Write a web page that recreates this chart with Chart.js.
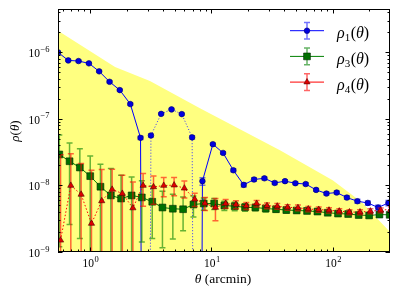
<!DOCTYPE html>
<html><head><meta charset="utf-8">
<script src="https://cdn.jsdelivr.net/npm/chart.js@4"></script>
<style>html,body{margin:0;padding:0;background:#fff;}</style>
</head><body>
<canvas id="c" width="399" height="299"></canvas>
<script>
// ---- data ----
const theta = [0.545,0.662,0.805,0.980,1.19,1.45,1.76,2.15,2.61,3.18,3.86,4.70,5.71,6.95,8.45,10.3,12.5,15.2,18.5,22.5,27.4,33.3,40.5,49.3,60.0,73.1,88.9,108,131,160,195,237,288];
const rho1 = [1.0e-6,7.57e-7,7.4e-7,6.83e-7,5.18e-7,3.61e-7,2.71e-7,1.67e-7,5.19e-8,-5.64e-8,-1.19e-7,-1.39e-7,-1.18e-7,-5.28e-8,1.16e-8,4.17e-8,3.08e-8,1.69e-8,1.02e-8,1.23e-8,1.28e-8,1.09e-8,1.16e-8,1.08e-8,1.05e-8,8.57e-9,7.56e-9,7.83e-9,6.58e-9,5.79e-9,5.46e-9,4.66e-9,5.46e-9];
const rho1Err = [3e-8,2.5e-8,2.3e-8,2e-8,1.6e-8,1.2e-8,9e-9,6e-9,3e-9,3e-9,4e-9,4e-9,4e-9,3e-9,1.5e-9,1.5e-9,1.2e-9,9e-10,7e-10,7e-10,6e-10,6e-10,5e-10,5e-10,5e-10,4e-10,4e-10,4e-10,4e-10,4e-10,4e-10,4e-10,5e-10];
const rho3 = [2.92e-8,2.31e-8,1.86e-8,1.38e-8,9.57e-9,7.08e-9,6.36e-9,7.08e-9,6.61e-9,5.69e-9,4.66e-9,4.47e-9,4.39e-9,5.17e-9,5.35e-9,5.35e-9,4.99e-9,4.87e-9,4.70e-9,4.66e-9,4.50e-9,4.39e-9,4.27e-9,4.21e-9,4.14e-9,4.05e-9,3.89e-9,3.78e-9,3.72e-9,3.59e-9,3.54e-9,3.65e-9,3.62e-9];
const rho3Err = [2.8e-8,2.05e-8,1.7e-8,1.4e-8,1.13e-8,1.09e-8,7.9e-9,6.3e-9,5.2e-9,4.1e-9,3.5e-9,2.9e-9,2.3e-9,1.8e-9,1.1e-9,1.0e-9,8e-10,7e-10,6e-10,5e-10,5e-10,4.5e-10,4e-10,4e-10,3.5e-10,3.5e-10,3e-10,3e-10,3e-10,2.5e-10,2.5e-10,2.5e-10,2.5e-10];
const rho4 = [1.50e-9,9.97e-9,7.33e-9,2.68e-9,5.85e-9,8.71e-9,7.56e-9,4.58e-9,9.97e-9,9.51e-9,9.97e-9,1.01e-8,9.08e-9,6.21e-9,5.40e-9,4.66e-9,5.35e-9,5.17e-9,4.95e-9,5.35e-9,4.95e-9,4.87e-9,4.70e-9,4.62e-9,4.42e-9,4.34e-9,4.24e-9,4.10e-9,3.98e-9,3.98e-9,4.10e-9,4.24e-9,4.39e-9];
const rho4Err = [2.75e-8,2.0e-8,1.4e-8,1.42e-8,1.15e-8,8.8e-9,6.7e-9,6.7e-9,5.1e-9,4.3e-9,3.2e-9,3.1e-9,2.6e-9,1.4e-9,1.2e-9,1.7e-9,8e-10,7e-10,6e-10,6e-10,5e-10,5e-10,4.5e-10,4.5e-10,4e-10,4e-10,4e-10,3.5e-10,3.5e-10,3.5e-10,3.5e-10,3.5e-10,3.5e-10];
const bandTheta = [0.545,1.61,3.12,8.06,36.8,100,174,297];
const bandUpper = [2.11e-6,6.0e-7,3.7e-7,1.45e-7,3.39e-8,1.2e-8,5.6e-9,2.0e-9];
const xTickExps = [0,1,2];
const yTickExps = [-9,-8,-7,-6];
const seriesNames = ['1','3','4'];
const xTitle = ['\u03b8',' (arcmin)'];
const yTitle = ['\u03c1','(','\u03b8',')'];

// ---- styling ----
const SERIF = '"Liberation Serif", "DejaVu Serif", serif';
const XMIN = 0.545, XMAX = 297, YMIN = 1e-9, YMAX = 4.48e-6;
const CLIP = 1e-40; // non-positive values clipped as a log axis does
const OFF3 = 1.025, OFF4 = 1.05;
const C1 = '#0000ff', C3 = '#008000', C4 = '#ff0000';
const E1 = 'rgba(0,0,255,0.55)', E3 = 'rgba(0,128,0,0.6)', E4 = 'rgba(255,0,0,0.6)';

const pos = v => v > 0 ? v : CLIP;
const neg = v => v < 0 ? -v : CLIP;

const datasets = [
  {label:'band', data: bandTheta.map((t,i)=>({x:t,y:bandUpper[i]})), fill:'start', backgroundColor:'#ffff80', borderWidth:0, pointRadius:0, order:20},
  {label:'rho1', data: theta.map((t,i)=>({x:t,y:pos(rho1[i])})), borderColor:C1, borderWidth:1, pointRadius:2.8, pointBackgroundColor:'#0000e0', pointBorderColor:'#00006a', pointBorderWidth:0.6, order:9, err:{th:theta, v:rho1, e:rho1Err, f:1, c:E1}},
  {label:'rho1neg', data: theta.map((t,i)=>({x:t,y:neg(rho1[i])})), borderColor:'#3333ff', borderWidth:1, borderDash:[1,2], pointRadius:2.8, pointBackgroundColor:'#0000e0', pointBorderColor:'#00006a', pointBorderWidth:0.6, order:8},
  {label:'rho3', data: theta.map((t,i)=>({x:t*OFF3,y:rho3[i]})), borderColor:C3, borderWidth:1, pointStyle:'rect', pointRadius:4.8, pointBackgroundColor:'#007000', pointBorderColor:'#002800', pointBorderWidth:0.6, order:6, err:{th:theta, v:rho3, e:rho3Err, f:OFF3, c:E3}},
  {label:'rho4', data: theta.map((t,i)=>({x:t*OFF4,y:rho4[i]})), borderColor:C4, borderWidth:1, borderDash:[1.5,2], pointStyle:'triangle', pointRadius:3.6, pointBackgroundColor:'#e00000', pointBorderColor:'#500000', pointBorderWidth:0.6, order:4, err:{th:theta, v:rho4, e:rho4Err, f:OFF4, c:E4}},
];

function drawErr(chart, er){
  const {ctx, chartArea:a, scales:{x,y}} = chart;
  ctx.save();
  ctx.beginPath(); ctx.rect(a.left, a.top, a.right-a.left, a.bottom-a.top); ctx.clip();
  ctx.strokeStyle = er.c; ctx.lineWidth = 1.5;
  er.th.forEach((t,i)=>{
    const v = Math.abs(er.v[i]), e = er.e[i];
    const px = x.getPixelForValue(t*er.f);
    const yt = y.getPixelForValue(v+e);
    const lowOk = v-e > 0;
    const yb = lowOk ? y.getPixelForValue(v-e) : a.bottom+10;
    ctx.beginPath();
    ctx.moveTo(px, yt); ctx.lineTo(px, yb);
    ctx.moveTo(px-3, yt); ctx.lineTo(px+3, yt);
    if (lowOk){ ctx.moveTo(px-3, yb); ctx.lineTo(px+3, yb); }
    ctx.stroke();
  });
  ctx.restore();
}

function expLabel(ctx, exp, cx, baseY, align){
  const base = '10', ex = (exp<0?'\u2212':'') + Math.abs(exp);
  ctx.font = '11.5px ' + SERIF;
  const wb = ctx.measureText(base).width;
  ctx.font = '8.5px ' + SERIF;
  const we = ctx.measureText(ex).width;
  let x0 = align === 'right' ? cx - wb - we : cx - (wb+we)/2;
  ctx.fillStyle = '#000'; ctx.textAlign = 'left'; ctx.textBaseline = 'alphabetic';
  ctx.font = '11.5px ' + SERIF; ctx.fillText(base, x0, baseY);
  ctx.font = '8.5px ' + SERIF; ctx.fillText(ex, x0 + wb + 0.5, baseY - 5.5);
}

function marker(ctx, style, x, y, fill, stroke){
  ctx.save(); ctx.fillStyle = fill; ctx.strokeStyle = stroke; ctx.lineWidth = 0.6;
  ctx.beginPath();
  if (style==='circle') ctx.arc(x,y,2.8,0,Math.PI*2);
  else if (style==='rect') ctx.rect(x-3.4,y-3.4,6.8,6.8);
  else { ctx.moveTo(x,y-3.6); ctx.lineTo(x+3.1,y+1.8); ctx.lineTo(x-3.1,y+1.8); ctx.closePath(); }
  ctx.fill(); ctx.stroke(); ctx.restore();
}

const deco = {
  id:'deco',
  beforeDatasetDraw(chart, args){
    const d = chart.data.datasets[args.index];
    if (d.err) drawErr(chart, d.err);
  },
  afterDraw(chart){
    const {ctx, chartArea:a, scales:{x,y}} = chart;
    ctx.save();
    // frame
    ctx.strokeStyle = '#000'; ctx.lineWidth = 1;
    ctx.strokeRect(a.left+0.5, a.top+0.5, a.right-a.left-1, a.bottom-a.top-1);
    // ticks inward on all sides
    ctx.beginPath();
    for (let e=-1;e<=3;e++) for (let m=1;m<=9;m++){
      const v = m*Math.pow(10,e); if (v<XMIN||v>XMAX) continue;
      const px = Math.round(x.getPixelForValue(v))+0.5, L = m===1?4.5:2.5;
      ctx.moveTo(px,a.bottom); ctx.lineTo(px,a.bottom-L);
      ctx.moveTo(px,a.top); ctx.lineTo(px,a.top+L);
    }
    for (let e=-10;e<=-5;e++) for (let m=1;m<=9;m++){
      const v = m*Math.pow(10,e); if (v<YMIN*0.999||v>YMAX) continue;
      const py = Math.round(y.getPixelForValue(v))+0.5, L = m===1?4.5:2.5;
      ctx.moveTo(a.left,py); ctx.lineTo(a.left+L,py);
      ctx.moveTo(a.right,py); ctx.lineTo(a.right-L,py);
    }
    ctx.stroke();
    // tick labels
    xTickExps.forEach(e=>expLabel(ctx, e, x.getPixelForValue(Math.pow(10,e))+0.5, a.bottom+15, 'center'));
    yTickExps.forEach(e=>expLabel(ctx, e, a.left-9, y.getPixelForValue(Math.pow(10,e))+5, 'right'));
    // axis titles
    ctx.fillStyle = '#000'; ctx.textBaseline='alphabetic'; ctx.textAlign='left';
    ctx.font = 'italic 13.5px ' + SERIF; const w1 = ctx.measureText(xTitle[0]).width;
    ctx.font = '13.5px ' + SERIF; const w2 = ctx.measureText(xTitle[1]).width;
    let xs = 223 - (w1+w2)/2;
    ctx.font = 'italic 13.5px ' + SERIF; ctx.fillText(xTitle[0], xs, 283);
    ctx.font = '13.5px ' + SERIF; ctx.fillText(xTitle[1], xs+w1, 283);
    ctx.save(); ctx.translate(19, 131); ctx.rotate(-Math.PI/2);
    const fonts = ['italic 13px '+SERIF, '13px '+SERIF, 'italic 13px '+SERIF, '13px '+SERIF];
    let tw = 0; yTitle.forEach((s,i)=>{ctx.font=fonts[i]; tw+=ctx.measureText(s).width;});
    let tx = -tw/2;
    yTitle.forEach((s,i)=>{ctx.font=fonts[i]; ctx.fillText(s, tx, 0); tx+=ctx.measureText(s).width;});
    ctx.restore();
    // legend
    const items = [
      {line:C1, bar:E1, st:'circle', fill:'#0000e0', stroke:'#00006a'},
      {line:C3, bar:E3, st:'rect', fill:'#007000', stroke:'#002800'},
      {line:C4, bar:E4, st:'triangle', fill:'#e00000', stroke:'#500000'}];
    items.forEach((it,i)=>{
      const ry = 30.7 + i*25.7;
      ctx.strokeStyle = it.line; ctx.lineWidth = 1;
      ctx.beginPath(); ctx.moveTo(290, ry); ctx.lineTo(324, ry); ctx.stroke();
      ctx.strokeStyle = it.bar; ctx.lineWidth = 1.5;
      ctx.beginPath(); ctx.moveTo(307, ry-8.3); ctx.lineTo(307, ry+8.3);
      ctx.moveTo(304, ry-8.3); ctx.lineTo(310, ry-8.3);
      ctx.moveTo(304, ry+8.3); ctx.lineTo(310, ry+8.3); ctx.stroke();
      marker(ctx, it.st, 307, ry, it.fill, it.stroke);
      let lx = 337, base = ry + 7.5;
      ctx.fillStyle = '#000';
      ctx.font = 'italic 16px '+SERIF; ctx.fillText('\u03c1', lx, base); lx += ctx.measureText('\u03c1').width;
      ctx.font = '11px '+SERIF; ctx.fillText(seriesNames[i], lx, base+3); lx += ctx.measureText(seriesNames[i]).width + 0.5;
      ctx.font = '16px '+SERIF; ctx.fillText('(', lx, base); lx += ctx.measureText('(').width;
      ctx.font = 'italic 16px '+SERIF; ctx.fillText('\u03b8', lx, base); lx += ctx.measureText('\u03b8').width;
      ctx.font = '16px '+SERIF; ctx.fillText(')', lx, base);
    });
    ctx.restore();
  }
};

new Chart(document.getElementById('c'), {
  type:'line',
  data:{datasets},
  options:{
    responsive:false, animation:false, devicePixelRatio:1, events:[],
    layout:{padding:{left:0,right:9,top:9,bottom:0}},
    plugins:{legend:{display:false}, tooltip:{enabled:false}},
    scales:{
      x:{type:'logarithmic', min:XMIN, max:XMAX, bounds:'data',
         grid:{display:false, drawTicks:false}, border:{display:false},
         ticks:{display:false}, afterFit(s){ s.height = 47; }},
      y:{type:'logarithmic', min:YMIN, max:YMAX, bounds:'data',
         grid:{display:false, drawTicks:false}, border:{display:false},
         ticks:{display:false}, afterFit(s){ s.width = 58; }}
    }
  },
  plugins:[deco]
});
</script>
</body></html>
